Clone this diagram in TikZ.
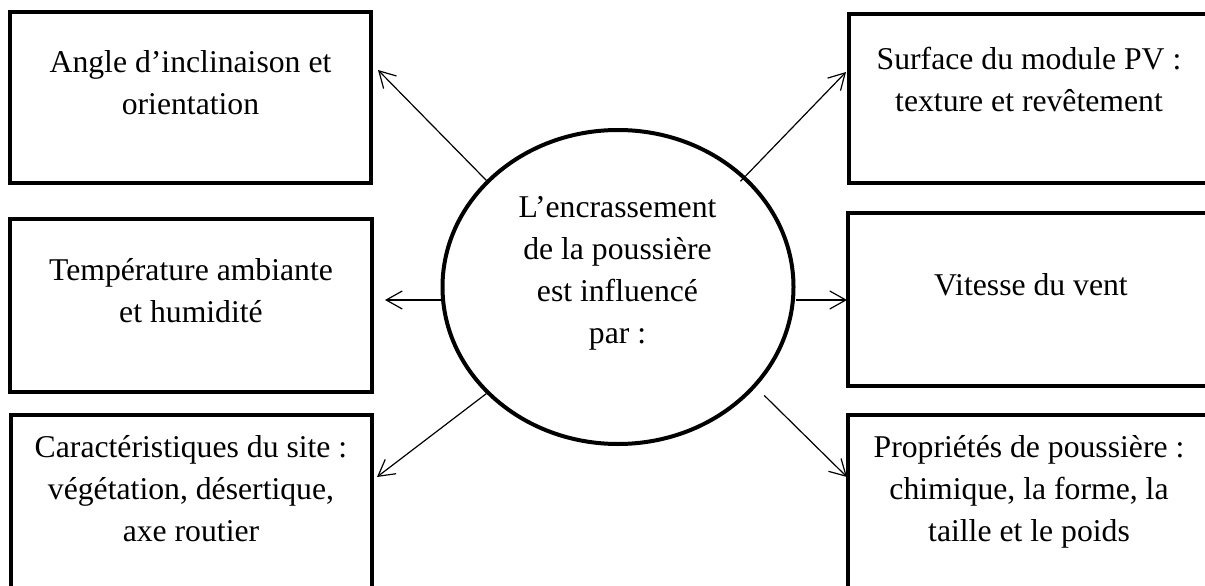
\documentclass[tikz,border=0pt]{standalone}
\usepackage{fontspec}
\setmainfont{Liberation Serif}
\usetikzlibrary{arrows.meta,shapes.geometric}
\begin{document}
\begin{tikzpicture}[x=1pt,y=-1pt,
  box/.style={draw,line width=4pt,rectangle,inner sep=0pt},
  lbl/.style={anchor=north,align=center,inner sep=0pt,font=\fontsize{31.7}{42}\selectfont},
  link/.style={line width=1.2pt,-{Straight Barb[length=16pt,width=18pt,line width=1.2pt]}}]
\useasboundingbox (0,0) rectangle (1205,586);
\clip (0,0) rectangle (1205,586);
% boxes
\node[box,minimum width=361pt,minimum height=171pt] (tl) at (190.5,97.5) {};
\node[box,minimum width=362pt,minimum height=173pt] (ml) at (191,305.5) {};
\node[box,minimum width=361pt,minimum height=173pt] (bl) at (191.5,501.5) {};
\node[box,minimum width=360pt,minimum height=169pt] (tr) at (1029,98.5) {};
\node[box,minimum width=360pt,minimum height=173pt] (mr) at (1028,299.5) {};
\node[box,minimum width=360pt,minimum height=173pt] (br) at (1028,501.5) {};
% texts
\node[lbl] (tlt) at (190.5,50.3) {Angle d’inclinaison et\\orientation};
\node[lbl] (mlt) at (191,258.3) {Température ambiante\\et humidité};
\node[lbl] (blt) at (191,435.3) {Caractéristiques du site :\\végétation, désertique,\\axe routier};
\node[lbl] (trt) at (1029,46.5) {Surface du module PV :\\texture et revêtement};
\node[lbl] (mrt) at (1031,273.3) {Vitesse du vent};
\node[lbl] (brt) at (1029,435.3) {Propriétés de poussière :\\chimique, la forme, la\\taille et le poids};
% centre
\node[draw,ellipse,line width=4pt,inner sep=0pt,minimum width=351pt,minimum height=314pt] (c) at (618,287) {};
\node[lbl] (ct) at (617.5,196.5) {L’encrassement\\de la poussière\\est influencé\\par :};
% arrow tips
\coordinate (tlA) at (378,70);
\coordinate (trA) at (846,72);
\coordinate (mlA) at (385,300);
\coordinate (mrA) at (847,300);
\coordinate (blA) at (377,477);
\coordinate (brA) at (847,477);
\draw[link] (c.141.6) -- (tlA);
\draw[link,shorten <=-7pt] (c.41.7) -- (trA);
\draw[link] (c.west |- mlA) -- (mlA);
\draw[link] (c.east |- mrA) -- (mrA);
\draw[link] (c.219.2) -- (blA);
\draw[link,shorten <=11.7pt] (c.324.3) -- (brA);
\end{tikzpicture}
\end{document}
